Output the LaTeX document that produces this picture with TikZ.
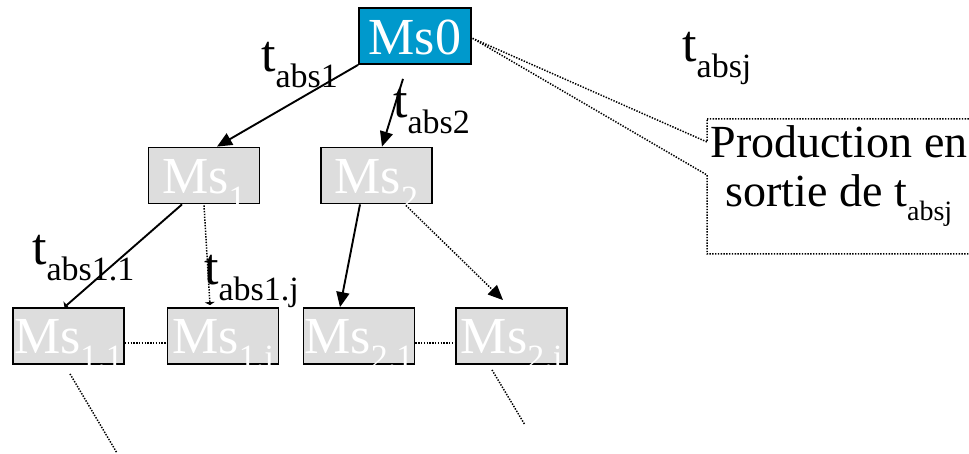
\documentclass[tikz,border=0pt]{standalone}
\usepackage{fontspec}
\setmainfont{Liberation Serif}
\usetikzlibrary{arrows.meta}
\definecolor{msgray}{HTML}{DDDDDD}
\definecolor{msblue}{HTML}{0099CC}
% lowered, smaller index text
\newcommand\sublow[2][34]{\raisebox{-0.3em}{\fontsize{#1}{#1}\selectfont #2}}
\begin{document}
\begin{tikzpicture}[x=1pt,y=-1pt,
  msbox/.style={draw=black, line width=1.8pt, fill=msgray, minimum width=111pt,
    minimum height=56pt, inner sep=0pt},
  mstext/.style={text=white, inner sep=0pt, anchor=base, font=\fontsize{52}{52}\selectfont},
  tlab/.style={inner sep=0pt, anchor=base west, font=\fontsize{52}{52}\selectfont},
  bigtip/.style={-{Triangle[length=15pt,width=13pt]}},
  solidarr/.style={line width=1.9pt, bigtip},
  dotline/.style={line width=1.5pt, dash pattern=on 1.4pt off 1.4pt},
  tinytip/.style={-{Triangle[length=3pt,width=10pt]}}
]
\useasboundingbox (0,0) rectangle (969,454);

% boxes
\node[msbox, fill=msblue, minimum width=112pt] (ms0) at (415,36) {};
\node[msbox] (ms1)  at (204,175.5) {};
\node[msbox] (ms2)  at (376.5,175.5) {};
\node[msbox] (ms11) at (68.5,336) {};
\node[msbox] (ms1j) at (223,336) {};
\node[msbox] (ms21) at (359,336) {};
\node[msbox] (ms2j) at (511.5,336) {};

% box texts
\node[mstext] (ms0t)  at ([yshift=-19pt]ms0.center)  {Ms0};
\node[mstext] (ms1t)  at ([yshift=-18pt]ms1.center)  {Ms\sublow{1}};
\node[mstext] (ms2t)  at ([yshift=-18pt]ms2.center)  {Ms\sublow{2}};
\node[mstext] (ms11t) at ([yshift=-17pt]ms11.center) {Ms\sublow{1.1}};
\node[mstext] (ms1jt) at ([yshift=-17pt]ms1j.center) {Ms\sublow{1.j}};
\node[mstext] (ms21t) at ([yshift=-17pt]ms21.center) {Ms\sublow{2.1}};
\node[mstext] (ms2jt) at ([yshift=-17pt]ms2j.center) {Ms\sublow{2.j}};

% transition labels
\node[tlab] (t1)  at (261,72)  {t\sublow{abs1}};
\node[tlab] (t2)  at (393,118) {t\sublow{abs2}};
\node[tlab] (tj)  at (682,62)  {t\sublow{absj}};
\node[tlab] (t11) at (32,265)  {t\sublow{abs1.1}};
\node[tlab] (t1j) at (204,285) {t\sublow{abs1.j}};

% connectors
\draw[solidarr] (ms0.south west) -- ([xshift=13pt]ms1.north);
\draw[solidarr] ([xshift=-12pt,yshift=-14pt]ms0.south) -- ([xshift=5.5pt]ms2.north);
\draw[line width=1.9pt, tinytip] ([xshift=-22pt]ms1.south) -- ([xshift=-4pt]ms11.north);
\draw[dotline, tinytip] ([xshift=0pt,yshift=-1pt]ms1.south) -- ([xshift=-13pt,yshift=2pt]ms1j.north);
\draw[solidarr] ([xshift=-16.5pt]ms2.south) -- ([xshift=-19pt]ms21.north);
\draw[dotline, bigtip] ([xshift=-27pt,yshift=-1pt]ms2.south east) -- ([xshift=-8.5pt,yshift=7pt]ms2j.north);
\draw[dotline] ([yshift=-7pt]ms11.east) -- ([yshift=-7pt]ms1j.west);
\draw[dotline] ([yshift=-7pt]ms21.east) -- ([yshift=-7pt]ms2j.west);
\coordinate (d1) at (117,453);
\coordinate (d2) at (525,425);
\draw[dotline] ([xshift=1.5pt,yshift=-9pt]ms11.south) -- (d1);
\draw[dotline] ([xshift=-19.5pt,yshift=-5pt]ms2j.south) -- (d2);

% callout
\draw[dotline] (707,119) -- (990,119) -- (990,254) -- (707,254) -- (707,175)
  -- ([yshift=-2pt]ms0.east) -- (707,142) -- cycle;
\node[inner sep=0pt, anchor=base, font=\fontsize{46}{46}\selectfont] (p1) at (839,158) {Production en};
\node[inner sep=0pt, anchor=base, font=\fontsize{46}{46}\selectfont] (p2) at (839,207) {sortie de t\sublow[28]{absj}};
\end{tikzpicture}
\end{document}
